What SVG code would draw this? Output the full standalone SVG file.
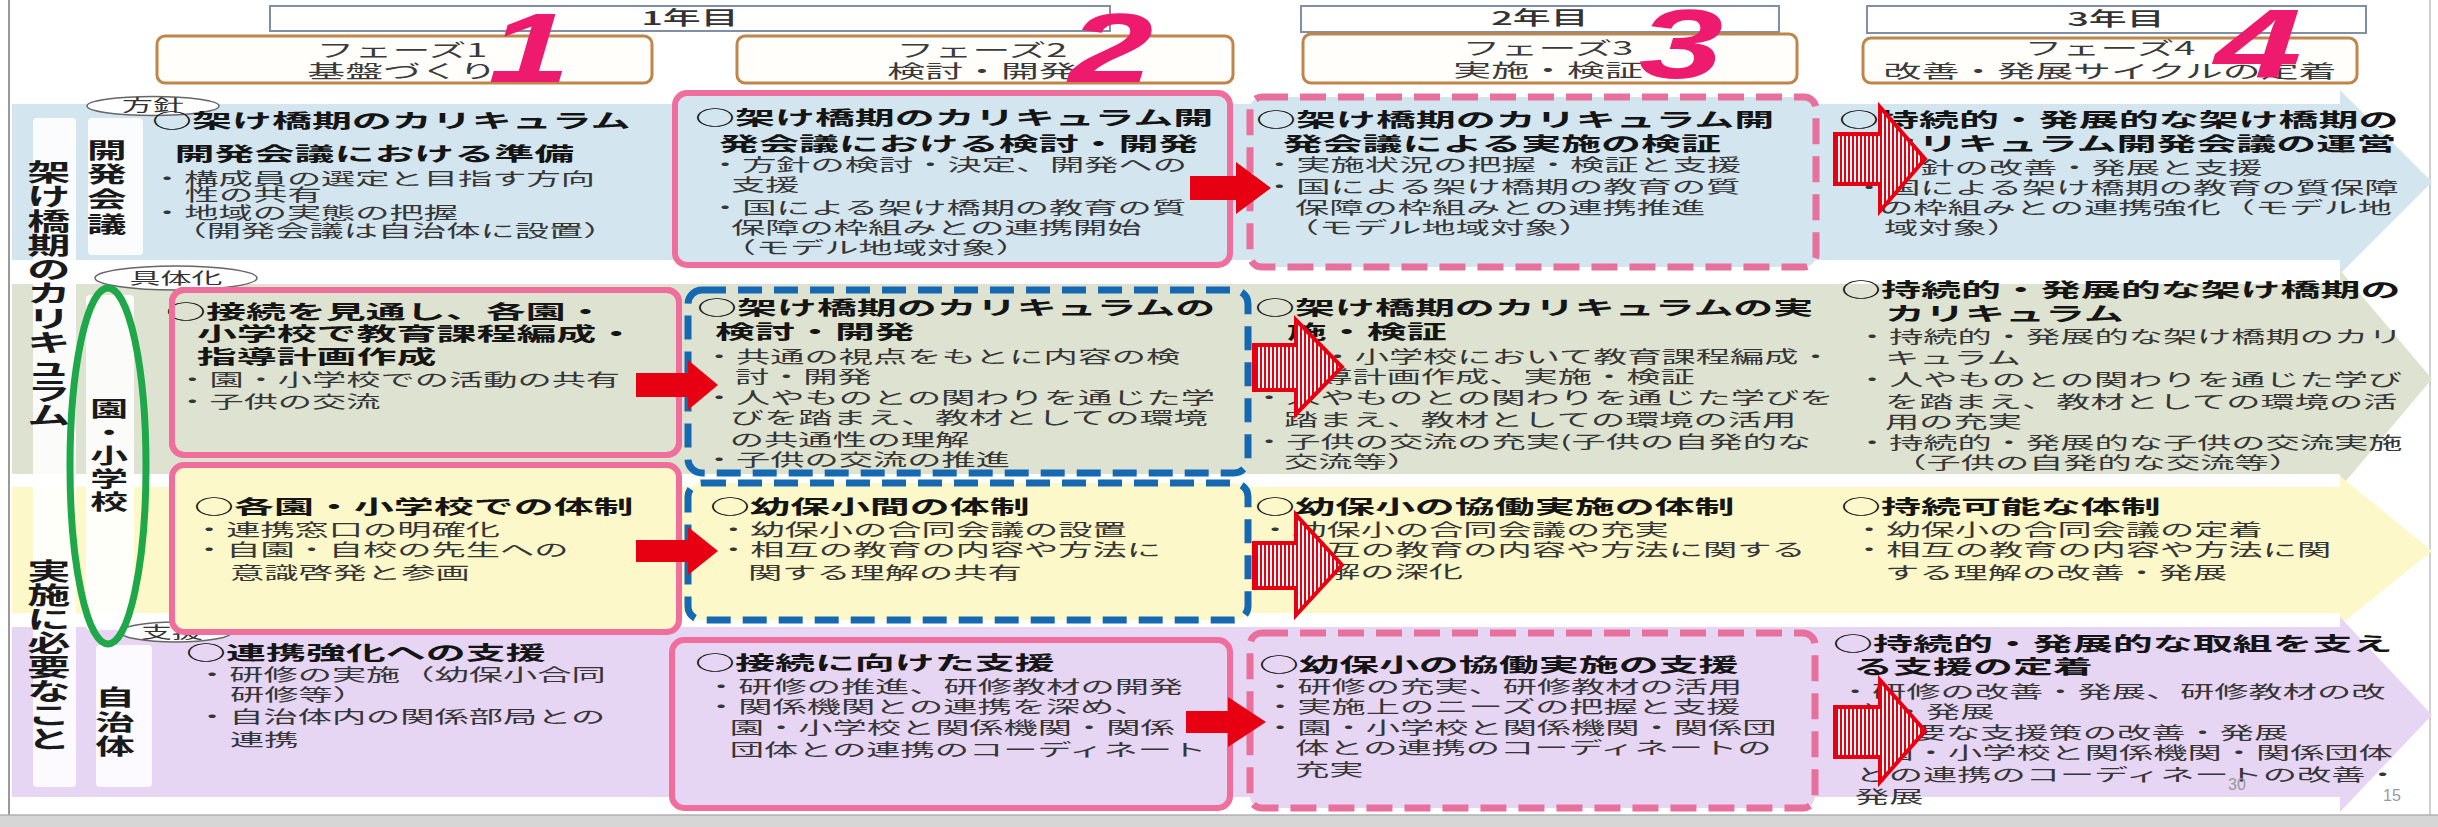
<svg xmlns="http://www.w3.org/2000/svg" width="2438" height="827" viewBox="0 0 2438 827">
<defs>
<style>
.h{font-family:"Noto Sans CJK JP","Noto Sans CJK SC",sans-serif;font-size:19.5px;font-weight:700;fill:#151515}
.b{font-family:"Noto Sans CJK JP","Noto Sans CJK SC",sans-serif;font-size:16.7px;fill:#363636}
.ph{font-family:"Noto Sans CJK JP","Noto Sans CJK SC",sans-serif;font-size:18.5px;fill:#3a3a3a;text-anchor:middle}
.yr{font-family:"Noto Sans CJK JP","Noto Sans CJK SC",sans-serif;font-size:19px;font-weight:500;fill:#333;text-anchor:middle}
.vl{font-family:"Noto Sans CJK JP","Noto Sans CJK SC",sans-serif;font-weight:700;fill:#1a1a1a;text-anchor:middle}
.lb{font-family:"Noto Sans CJK JP","Noto Sans CJK SC",sans-serif;font-size:15.5px;fill:#333;text-anchor:middle}
.num{font-family:"Liberation Sans",Arial,sans-serif;font-weight:700;font-style:italic;font-size:98px;fill:#ee1a6e;text-anchor:middle}
.pg{font-family:"Liberation Sans",Arial,sans-serif;font-size:16px;fill:#999;text-anchor:middle}
.yb{fill:#fff;stroke:#7f8fa6;stroke-width:2}
.pb{fill:#fffefb;stroke:#c0854a;stroke-width:3}
.ps{stroke:#ef6e9c;stroke-width:6}
.pd{stroke:#e8709c;stroke-width:7;stroke-dasharray:26 12}
.bd{stroke:#1568b2;stroke-width:7;stroke-dasharray:24 12}
.le{fill:#fff;stroke:#666;stroke-width:1.5}
.strip{fill:#fff;opacity:0.88}
.ra{fill:#e60012}
.sa{fill:url(#stripe);stroke:#e60012;stroke-width:4;stroke-linejoin:miter}
.fb{fill:#d3e5ef}.fg{fill:#dee3d1}.fy{fill:#fcf8c9}.fp{fill:#e7d5f4}
</style>
<pattern id="stripe" x="0" y="0" width="4" height="10" patternUnits="userSpaceOnUse">
<rect width="4" height="10" fill="#fff"/>
<rect width="2" height="10" fill="#e60012"/>
</pattern>
</defs>
<rect width="2438" height="827" fill="#fff"/>
<g id="frame">
<line x1="9" y1="0" x2="9" y2="815" stroke="#9a9a9a" stroke-width="2"/>
<line x1="2430" y1="0" x2="2430" y2="815" stroke="#d0d0d0" stroke-width="2"/>
<rect x="0" y="815" width="2438" height="12" fill="#d6d6d6"/>
<line x1="0" y1="815" x2="2438" y2="815" stroke="#b0b0b0" stroke-width="1.5"/>
</g>
<g id="bands">
<path class="fb" d="M12,104 H2340 V90 L2432,182 L2340,274 V260 H12 Z"/>
<path class="fg" d="M12,284 H2340 V270 L2432,379 L2340,488 V474 H12 Z"/>
<path class="fy" d="M12,487 H2340 V476 L2432,551 L2340,625 V613 H12 Z"/>
<path class="fp" d="M12,627 H2340 V617 L2432,715 L2340,812 V797 H12 Z"/>
</g>
<g id="side-labels">
<rect class="strip" x="33" y="118" width="43" height="669" rx="4"/>
<rect class="strip" x="88" y="118" width="55" height="137" rx="4"/>
<rect class="strip" x="86" y="295" width="48" height="335" rx="4" opacity="0.7"/>
<rect class="strip" x="96" y="645" width="56" height="142" rx="4"/>
<g id="label-kakehashi" transform="scale(1.8 1)"><text class="vl" font-size="24"><tspan x="27.2" y="181">架</tspan><tspan x="27.2" y="205">け</tspan><tspan x="27.2" y="230">橋</tspan><tspan x="27.2" y="254">期</tspan><tspan x="27.2" y="278">の</tspan><tspan x="27.2" y="302">カ</tspan><tspan x="27.2" y="327">リ</tspan><tspan x="27.2" y="351">キ</tspan><tspan x="27.2" y="375">ュ</tspan><tspan x="27.2" y="400">ラ</tspan><tspan x="27.2" y="424">ム</tspan></text></g>
<g id="label-jisshi" transform="scale(1.8 1)"><text class="vl" font-size="24"><tspan x="27.2" y="580">実</tspan><tspan x="27.2" y="604">施</tspan><tspan x="27.2" y="628">に</tspan><tspan x="27.2" y="652">必</tspan><tspan x="27.2" y="676">要</tspan><tspan x="27.2" y="700">な</tspan><tspan x="27.2" y="724">こ</tspan><tspan x="27.2" y="748">と</tspan></text></g>
<g id="label-kaihatsu" transform="scale(1.8 1)"><text class="vl" font-size="22"><tspan x="59.4" y="158">開</tspan><tspan x="59.4" y="182">発</tspan><tspan x="59.4" y="207">会</tspan><tspan x="59.4" y="232">議</tspan></text></g>
<g id="label-school" transform="scale(1.8 1)"><text class="vl" font-size="21" font-weight="400"><tspan x="60.6" y="416">園</tspan><tspan x="60.6" y="440">・</tspan><tspan x="60.6" y="463">小</tspan><tspan x="60.6" y="486">学</tspan><tspan x="60.6" y="509">校</tspan></text></g>
<g id="label-jichitai" transform="scale(1.8 1)"><text class="vl" font-size="22"><tspan x="63.9" y="705">自</tspan><tspan x="63.9" y="730">治</tspan><tspan x="63.9" y="754">体</tspan></text></g>
<g id="tag-houshin"><ellipse class="le" cx="153" cy="106" rx="66" ry="9.5"/><g transform="translate(153 0) scale(2 1)"><text class="lb" x="0" y="111.5">方針</text></g></g>
<g id="tag-gutaika"><ellipse class="le" cx="176" cy="278" rx="81" ry="12"/><g transform="translate(176 0) scale(2 1)"><text class="lb" x="0" y="284.5" font-size="16.5">具体化</text></g></g>
<g id="tag-shien"><ellipse class="le" cx="176" cy="632" rx="56" ry="10"/><g transform="translate(172 0) scale(2 1)"><text class="lb" x="0" y="638">支援</text></g></g>
</g>
<g id="header">
<g id="year1"><rect class="yb" x="270" y="6" width="840" height="25"/><g transform="translate(690 0) scale(2 1)"><text class="yr" x="0" y="25">1年目</text></g></g>
<g id="year2"><rect class="yb" x="1301" y="6" width="478" height="26"/><g transform="translate(1540 0) scale(2 1)"><text class="yr" x="0" y="25">2年目</text></g></g>
<g id="year3"><rect class="yb" x="1867" y="6" width="499" height="27"/><g transform="translate(2116 0) scale(2 1)"><text class="yr" x="0" y="26">3年目</text></g></g>
<g id="phase1"><rect class="pb" x="157" y="36" width="495" height="47" rx="8"/><g transform="translate(402 0) scale(2.05 1)"><text class="ph" x="0" y="57">フェーズ1</text><text class="ph" x="0" y="78">基盤づくり</text></g></g>
<g id="phase2"><rect class="pb" x="737" y="36" width="496" height="47" rx="8"/><g transform="translate(982 0) scale(2.05 1)"><text class="ph" x="0" y="57">フェーズ2</text><text class="ph" x="0" y="78">検討・開発</text></g></g>
<g id="phase3"><rect class="pb" x="1303" y="34" width="494" height="49" rx="8"/><g transform="translate(1548 0) scale(2.05 1)"><text class="ph" x="0" y="55">フェーズ3</text><text class="ph" x="0" y="77">実施・検証</text></g></g>
<g id="phase4"><rect class="pb" x="1863" y="38" width="494" height="45" rx="8"/><g transform="translate(2110 0) scale(2.05 1)"><text class="ph" x="0" y="55">フェーズ4</text><text class="ph" x="0" y="78">改善・発展サイクルの定着</text></g></g>
<g id="phase-numbers">
<g transform="translate(529 0) scale(1.5 1)"><text class="num" x="0" y="82">1</text></g>
<g transform="translate(1111 0) scale(1.55 1)"><text class="num" x="0" y="82">2</text></g>
<g transform="translate(1681 0) scale(1.55 1)"><text class="num" x="0" y="78">3</text></g>
<g transform="translate(2258 0) scale(1.6 1)"><text class="num" x="0" y="78">4</text></g>
</g>
</g>
<g id="r1c1"><g transform="translate(150 0) scale(2.05 1)">
<text class="h" x="1" y="128">○架け橋期のカリキュラム</text>
<text class="h" x="12" y="161">開発会議における準備</text>
<text class="b" x="0" y="185">・構成員の選定と目指す方向</text>
<text class="b" x="17" y="201">性の共有</text>
<text class="b" x="0" y="219">・地域の実態の把握</text>
<text class="b" x="11" y="237">（開発会議は自治体に設置）</text>
</g></g>
<g id="r1c2"><rect class="fb ps" x="675" y="93" width="555" height="172" rx="12"/><g transform="translate(695 0) scale(2.05 1)">
<text class="h" x="0" y="125.5">○架け橋期のカリキュラム開</text>
<text class="h" x="11.7" y="151">発会議における検討・開発</text>
<text class="b" x="6.3" y="171">・方針の検討・決定、開発への</text>
<text class="b" x="17.6" y="191">支援</text>
<text class="b" x="6.3" y="214">・国による架け橋期の教育の質</text>
<text class="b" x="17.6" y="234">保障の枠組みとの連携開始</text>
<text class="b" x="13" y="254">（モデル地域対象）</text>
</g></g>
<g id="r1c3"><rect class="fb pd" x="1250" y="97" width="566" height="170" rx="12"/><g transform="translate(1256 0) scale(2.05 1)">
<text class="h" x="0" y="127.5">○架け橋期のカリキュラム開</text>
<text class="h" x="13" y="151">発会議による実施の検証</text>
<text class="b" x="3" y="171">・実施状況の把握・検証と支援</text>
<text class="b" x="3" y="193">・国による架け橋期の教育の質</text>
<text class="b" x="19" y="214">保障の枠組みとの連携推進</text>
<text class="b" x="14" y="234">（モデル地域対象）</text>
</g></g>
<g id="r1c4"><g transform="translate(1839 0) scale(2.05 1)">
<text class="h" x="0" y="127.5">○持続的・発展的な架け橋期の</text>
<text class="h" x="19" y="151">カリキュラム開発会議の運営</text>
<text class="b" x="6.3" y="174">・方針の改善・発展と支援</text>
<text class="b" x="6.3" y="194">・国による架け橋期の教育の質保障</text>
<text class="b" x="19.5" y="214">の枠組みとの連携強化（モデル地</text>
<text class="b" x="22" y="234">域対象）</text>
</g></g>
<g id="r2c1"><rect class="fg ps" x="172" y="290" width="507" height="165" rx="12"/><g transform="translate(166 0) scale(2.05 1)">
<text class="h" x="0" y="319">○接続を見通し、各園・</text>
<text class="h" x="15" y="341">小学校で教育課程編成・</text>
<text class="h" x="15" y="364">指導計画作成</text>
<text class="b" x="4.5" y="386">・園・小学校での活動の共有</text>
<text class="b" x="4.5" y="408">・子供の交流</text>
</g><rect x="172" y="290" width="507" height="165" rx="12" fill="none" class="ps"/></g>
<g id="r2c2"><rect class="fg bd" x="688" y="290" width="560" height="183" rx="14"/><g transform="translate(697 0) scale(2.05 1)">
<text class="h" x="0" y="315">○架け橋期のカリキュラムの</text>
<text class="h" x="8.8" y="339">検討・開発</text>
<text class="b" x="2.4" y="363">・共通の視点をもとに内容の検</text>
<text class="b" x="18.5" y="383">討・開発</text>
<text class="b" x="2.4" y="404">・人やものとの関わりを通じた学</text>
<text class="b" x="16" y="424">びを踏まえ、教材としての環境</text>
<text class="b" x="16" y="446">の共通性の理解</text>
<text class="b" x="2.4" y="466">・子供の交流の推進</text>
</g></g>
<g id="r2c3"><g transform="translate(1252 0) scale(2.05 1)">
<text class="h" x="1.5" y="315">○架け橋期のカリキュラムの実</text>
<text class="h" x="17" y="339">施・検証</text>
<text class="b" x="0" y="363">・園・小学校において教育課程編成・</text>
<text class="b" x="15.6" y="383">指導計画作成、実施・検証</text>
<text class="b" x="0" y="404">・人やものとの関わりを通じた学びを</text>
<text class="b" x="15.6" y="426">踏まえ、教材としての環境の活用</text>
<text class="b" x="0" y="448">・子供の交流の充実(子供の自発的な</text>
<text class="b" x="15.6" y="468">交流等）</text>
</g></g>
<g id="r2c4"><g transform="translate(1841 0) scale(2.05 1)">
<text class="h" x="0" y="297">○持続的・発展的な架け橋期の</text>
<text class="h" x="21.5" y="321">カリキュラム</text>
<text class="b" x="6.8" y="343">・持続的・発展的な架け橋期のカリ</text>
<text class="b" x="21.5" y="364">キュラム</text>
<text class="b" x="6.8" y="386">・人やものとの関わりを通じた学び</text>
<text class="b" x="21.5" y="408">を踏まえ、教材としての環境の活</text>
<text class="b" x="21.5" y="428">用の充実</text>
<text class="b" x="6.8" y="449">・持続的・発展的な子供の交流実施</text>
<text class="b" x="25" y="469">（子供の自発的な交流等）</text>
</g></g>
<g id="r3c1"><rect class="fy ps" x="172" y="465" width="507" height="167" rx="12"/><g transform="translate(194 0) scale(2.05 1)">
<text class="h" x="0" y="514">○各園・小学校での体制</text>
<text class="b" x="-1" y="536">・連携窓口の明確化</text>
<text class="b" x="-1" y="556">・自園・自校の先生への</text>
<text class="b" x="17.6" y="579">意識啓発と参画</text>
</g></g>
<g id="r3c2"><rect class="fy bd" x="688" y="483" width="560" height="137" rx="14"/><g transform="translate(710 0) scale(2.05 1)">
<text class="h" x="0" y="514">○幼保小間の体制</text>
<text class="b" x="3" y="536">・幼保小の合同会議の設置</text>
<text class="b" x="3" y="556">・相互の教育の内容や方法に</text>
<text class="b" x="18.5" y="579">関する理解の共有</text>
</g></g>
<g id="r3c3"><g transform="translate(1255 0) scale(2.05 1)">
<text class="h" x="0" y="514">○幼保小の協働実施の体制</text>
<text class="b" x="1.5" y="536">・幼保小の合同会議の充実</text>
<text class="b" x="1.5" y="556">・相互の教育の内容や方法に関する</text>
<text class="b" x="18" y="578">理解の深化</text>
</g></g>
<g id="r3c4"><g transform="translate(1841 0) scale(2.05 1)">
<text class="h" x="0" y="514">○持続可能な体制</text>
<text class="b" x="5.4" y="536">・幼保小の合同会議の定着</text>
<text class="b" x="5.4" y="556">・相互の教育の内容や方法に関</text>
<text class="b" x="21.5" y="579">する理解の改善・発展</text>
</g></g>
<g id="r4c1"><g transform="translate(186 0) scale(2.05 1)">
<text class="h" x="0" y="660">○連携強化への支援</text>
<text class="b" x="4.4" y="681">・研修の実施（幼保小合同</text>
<text class="b" x="21.5" y="701">研修等）</text>
<text class="b" x="4.4" y="723">・自治体内の関係部局との</text>
<text class="b" x="21.5" y="746">連携</text>
</g></g>
<g id="r4c2"><rect class="fp ps" x="672" y="640" width="558" height="168" rx="12"/><g transform="translate(695 0) scale(2.05 1)">
<text class="h" x="0" y="670">○接続に向けた支援</text>
<text class="b" x="4.4" y="693">・研修の推進、研修教材の開発</text>
<text class="b" x="4.4" y="713">・関係機関との連携を深め、</text>
<text class="b" x="17" y="734">園・小学校と関係機関・関係</text>
<text class="b" x="17" y="756">団体との連携のコーディネート</text>
</g></g>
<g id="r4c3"><rect class="fp pd" x="1250" y="633" width="565" height="175" rx="12"/><g transform="translate(1259 0) scale(2.05 1)">
<text class="h" x="0" y="672">○幼保小の協働実施の支援</text>
<text class="b" x="2" y="693">・研修の充実、研修教材の活用</text>
<text class="b" x="2" y="713">・実施上のニーズの把握と支援</text>
<text class="b" x="2" y="734">・園・小学校と関係機関・関係団</text>
<text class="b" x="17.6" y="754">体との連携のコーディネートの</text>
<text class="b" x="17.6" y="776">充実</text>
</g></g>
<g id="r4c4"><g transform="translate(1833 0) scale(2.05 1)">
<text class="h" x="0" y="651">○持続的・発展的な取組を支え</text>
<text class="h" x="9.8" y="674">る支援の定着</text>
<text class="b" x="2.4" y="698">・研修の改善・発展、研修教材の改</text>
<text class="b" x="12" y="718">善・発展</text>
<text class="b" x="5" y="739">・必要な支援策の改善・発展</text>
<text class="b" x="6" y="759">・園・小学校と関係機関・関係団体</text>
<text class="b" x="10.7" y="781">との連携のコーディネートの改善・</text>
<text class="b" x="10.7" y="803">発展</text>
</g></g>
<g id="green-ring"><ellipse cx="108" cy="466" rx="38" ry="178" fill="none" stroke="#1fa84a" stroke-width="7"/></g>
<g id="connectors">
<path class="ra" d="M1190,176 H1236 V162 L1271,188 L1236,214 V200 H1190 Z"/>
<path class="ra" d="M636,373 H688 V360 L718,385 L688,410 V397 H636 Z"/>
<path class="ra" d="M636,540 H688 V527 L718,551 L688,575 V562 H636 Z"/>
<path class="ra" d="M1186,711 H1228 V697 L1266,722 L1228,747 V733 H1186 Z"/>
<path class="sa" d="M1835,134 H1880 V107 L1925,159 L1880,211 V184 H1835 Z"/>
<path class="sa" d="M1254,345 H1296 V320 L1342,367 L1296,414 V390 H1254 Z"/>
<path class="sa" d="M1254,543 H1296 V515 L1342,565 L1296,615 V588 H1254 Z"/>
<path class="sa" d="M1835,707 H1880 V680 L1925,731 L1880,782 V757 H1835 Z"/>
</g>
<g id="page-numbers">
<text class="pg" x="2237" y="790">30</text>
<text class="pg" x="2392" y="801" fill="#888">15</text>
</g>
</svg>
